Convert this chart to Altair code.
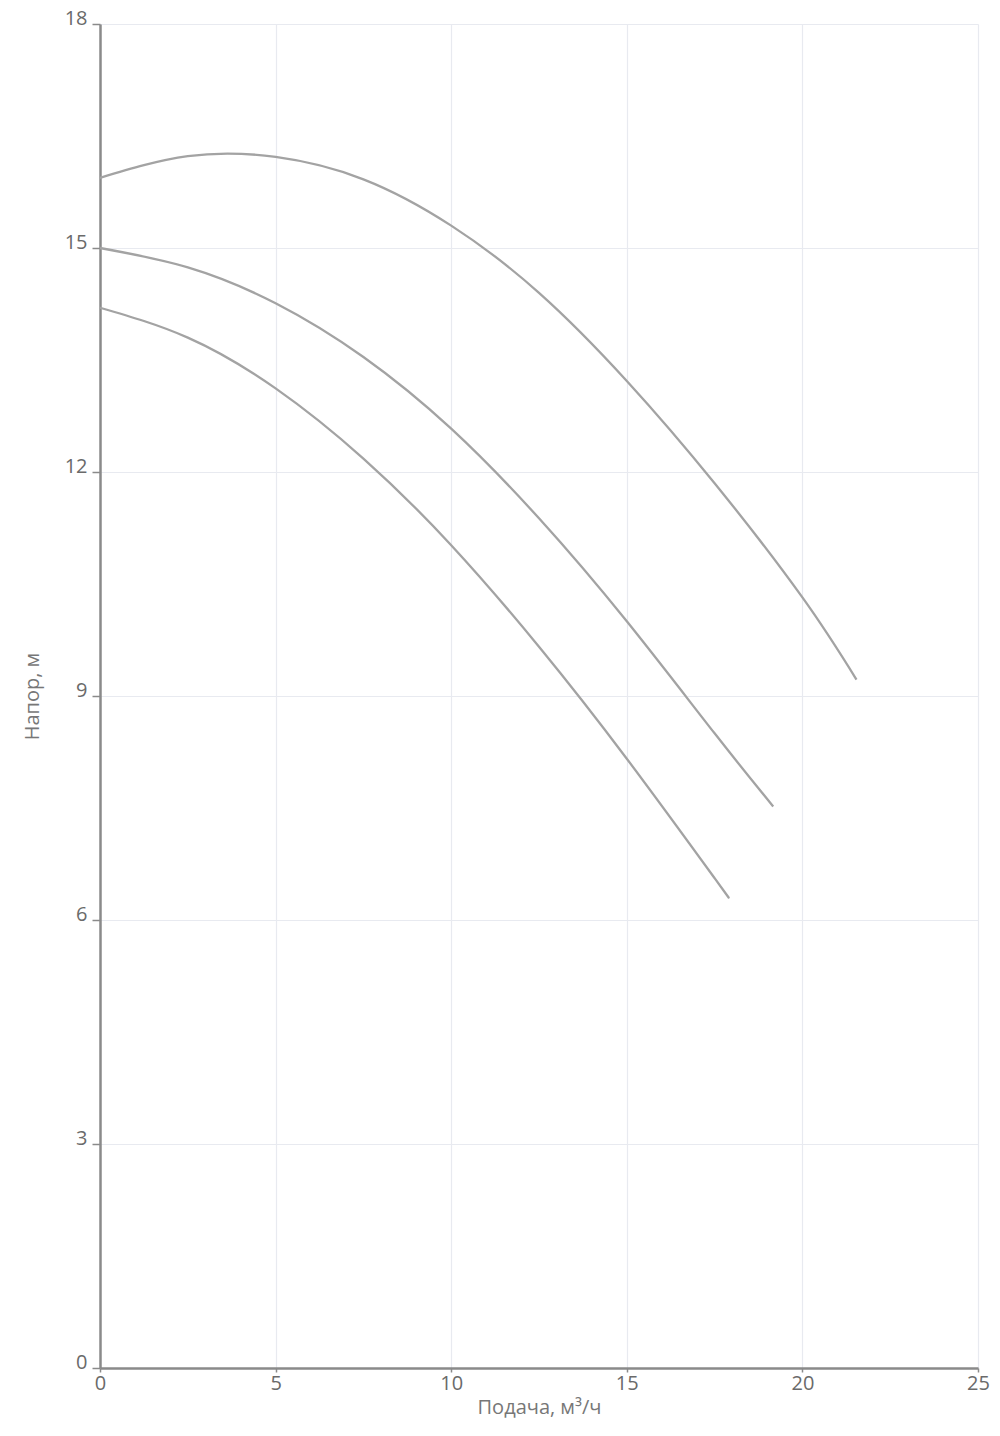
import altair as alt
import pandas as pd

# Curve 1 (top)
q1 = [0, 2.5, 5, 7.5, 10, 12.5, 15, 17.5, 20, 21.54]
h1 = [15.94, 16.23, 16.22, 15.92, 15.30, 14.40, 13.22, 11.85, 10.32, 9.22]

# Curve 2 (middle)
q2 = [0, 2.5, 5, 7.5, 10, 12.5, 15, 17.5, 19.17]
h2 = [15.0, 14.74, 14.26, 13.54, 12.58, 11.38, 10.0, 8.50, 7.52]

# Curve 3 (bottom)
q3 = [0, 2.5, 5, 7.5, 10, 12.5, 15, 17.5, 17.84]
h3 = [14.2, 13.80, 13.12, 12.18, 11.02, 9.66, 8.16, 6.56, 6.34]

x_ticks = [0, 5, 10, 15, 20, 25]
y_ticks = [0, 3, 6, 9, 12, 15, 18]

rows = []
for name, qs, hs in (("c1", q1, h1), ("c2", q2, h2), ("c3", q3, h3)):
    for q, h in zip(qs, hs):
        rows.append({"curve": name, "q": q, "h": h})
df = pd.DataFrame(rows)

FONT = "Open Sans"

chart = alt.Chart(df).mark_line(
    color="#a3a3a3", strokeWidth=2.3, interpolate="natural"
).encode(
    x=alt.X("q:Q",
            scale=alt.Scale(domain=[0, 25], nice=False, zero=True),
            axis=alt.Axis(values=x_ticks, title="Подача, м³/ч", labelFlush=False,
                          tickSize=4, labelPadding=1, titlePadding=4)),
    y=alt.Y("h:Q",
            scale=alt.Scale(domain=[0, 18], nice=False, zero=True),
            axis=alt.Axis(values=y_ticks, title="Напор, м", labelFlush=False,
                          tickSize=8, labelPadding=5, labelBaseline="alphabetic",
                          titlePadding=22)),
    detail="curve:N",
).properties(
    width=878, height=1344,
    autosize=alt.AutoSizeParams(type="none"),
    padding={"left": 92, "top": 16, "right": 14, "bottom": 52},
    background="white",
).configure_view(
    stroke=None
).configure_axis(
    domainColor="#8a8a8a", domainWidth=2.5,
    tickColor="#8a8a8a", tickWidth=1.5,
    gridColor="#e8eaf0", gridWidth=1.2,
    labelFont=FONT, labelFontSize=20, labelColor="#6a6a6a",
    titleFont=FONT, titleFontSize=20, titleColor="#777777", titleFontWeight="normal",
)

chart.save("out.html", embed_options={"renderer": "svg", "actions": False})
